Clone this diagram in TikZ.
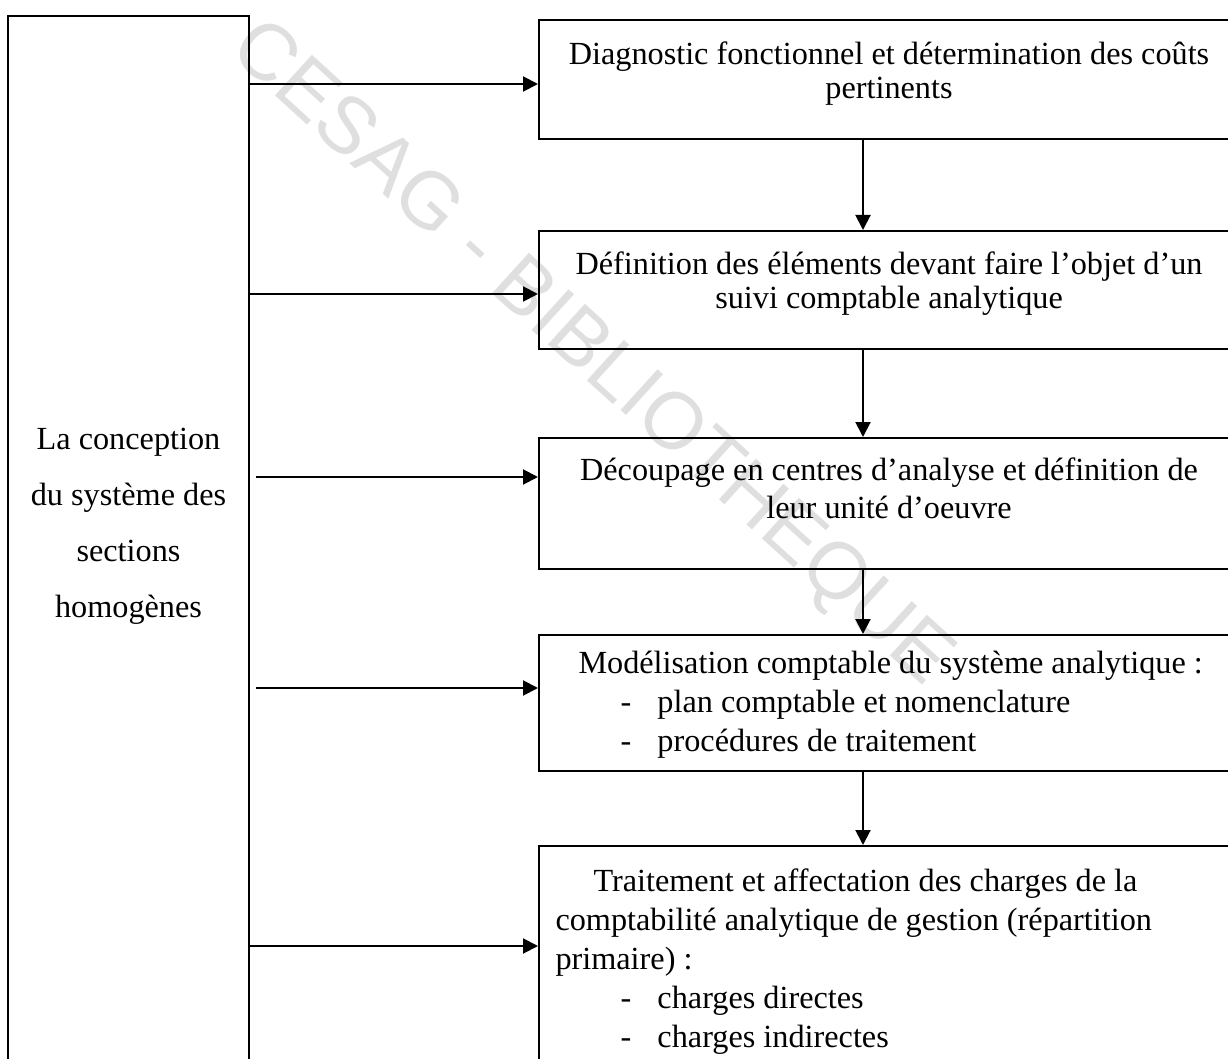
\documentclass[tikz,border=0pt]{standalone}
\usepackage{fontspec}
\setmainfont{Liberation Serif}
\newfontfamily\filigranefont{Liberation Sans}
\usetikzlibrary{arrows.meta,positioning}

% tiret d'enumeration : retrait, puis tiret, puis texte
\newcommand{\tiret}[2]{\hspace*{#1}\makebox[14.8pt][l]{-}#2}

\begin{document}
\begin{tikzpicture}[
    x=0.4pt, y=-0.4pt,
    >={Triangle[length=6pt,width=6pt]},
    cadre/.style={draw, line width=0.8pt, inner sep=0pt},
    etape/.style={cadre, minimum width=280pt, anchor=north west},
    texte/.style={inner sep=0pt, font=\fontsize{12.9}{13.6}\selectfont},
    fleche/.style={->, line width=0.8pt}
]
\useasboundingbox (0,0) rectangle (1228,1059);

% =========================================================================
% 1. FILIGRANE
% =========================================================================
\node[rotate=-42.3, text=gray!25, font=\filigranefont\fontsize{32}{34}\selectfont]
    (filigrane) at (590,355) {CESAG - BIBLIOTHEQUE};

% =========================================================================
% 2. CADRE DE GAUCHE
% =========================================================================
\node[cadre, minimum width=96.4pt, minimum height=426pt, anchor=north west]
    (conception) at (7,15) {};
\node[texte, align=center, font=\fontsize{12.9}{22.4}\selectfont, anchor=north]
    (intitule) at ([yshift=-165.2pt]conception.north)
    {La conception\\ du système des\\ sections\\ homogènes};

% =========================================================================
% 3. ETAPES
% =========================================================================
\node[etape, minimum height=47.6pt] (b1) at (538,19) {};
\node[etape, minimum height=47.2pt] (b2) at (538,230) {};
\node[etape, minimum height=52.4pt] (b3) at (538,437) {};
\node[etape, minimum height=54.4pt] (b4) at (538,634) {};
\node[etape, minimum height=94pt]   (b5) at (538,845) {};

% Textes des etapes
\node[texte, align=center, anchor=north] (t1)
    at ([yshift=-8.8pt]b1.north)
    {Diagnostic fonctionnel et détermination des coûts\\ pertinents};
\node[texte, align=center, anchor=north] (t2)
    at ([yshift=-8.4pt]b2.north)
    {Définition des éléments devant faire l’objet d’un\\ suivi comptable analytique};
\node[texte, align=center, anchor=north,
      font=\fontsize{12.9}{15.2}\selectfont] (t3)
    at ([yshift=-8pt]b3.north)
    {Découpage en centres d’analyse et définition de\\ leur unité d’oeuvre};
\node[texte, align=left, anchor=north west,
      font=\fontsize{12.9}{15.6}\selectfont] (t4)
    at ([xshift=16pt, yshift=-6.8pt]b4.north west)
    {Modélisation comptable du système analytique :\\
     \tiret{16.8pt}{plan comptable et nomenclature}\\
     \tiret{16.8pt}{procédures de traitement}};
\node[texte, align=left, anchor=north west,
      font=\fontsize{12.9}{15.6}\selectfont] (t5)
    at ([xshift=6.8pt, yshift=-9.2pt]b5.north west)
    {\hspace*{15.2pt}Traitement et affectation des charges de la\\
     comptabilité analytique de gestion (répartition\\
     primaire) :\\
     \tiret{26pt}{charges directes}\\
     \tiret{26pt}{charges indirectes}};

% =========================================================================
% 4. FLECHES
% =========================================================================
% Departs depuis le cadre de gauche
\coordinate (d1) at (248,84);
\coordinate (d2) at (248,294);
\coordinate (d3) at (256,477);
\coordinate (d4) at (256,688);
\coordinate (d5) at (248,946);

\draw[fleche] (d1) -- (d1 -| b1.west);
\draw[fleche] (d2) -- (d2 -| b2.west);
\draw[fleche] (d3) -- (d3 -| b3.west);
\draw[fleche] (d4) -- (d4 -| b4.west);
\draw[fleche] (d5) -- (d5 -| b5.west);

% Enchainement des etapes
\foreach \a/\b in {b1/b2, b2/b3, b3/b4, b4/b5}
    \draw[fleche] ([xshift=-10.4pt]\a.south) -- ([xshift=-10.4pt]\b.north);

\end{tikzpicture}
\end{document}
